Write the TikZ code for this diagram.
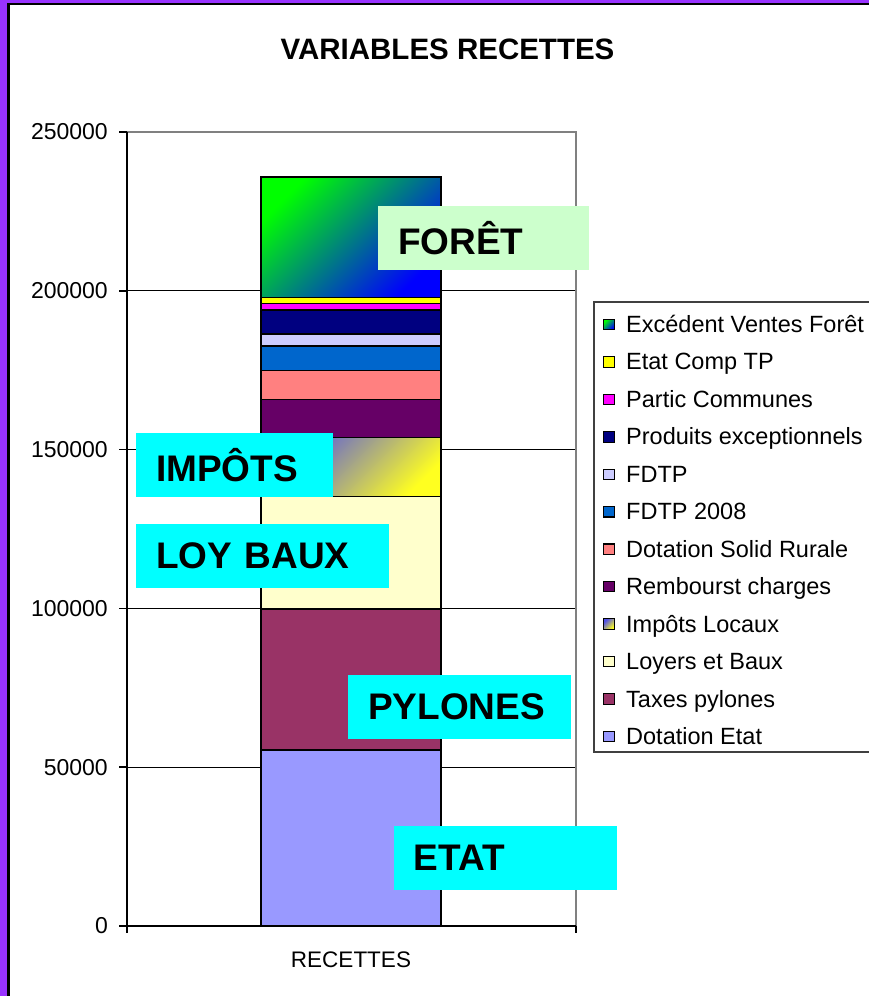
\documentclass[tikz,border=0pt]{standalone}
\usepackage{fontspec}
\setmainfont{Liberation Sans}
\usetikzlibrary{positioning,calc}

\definecolor{cadre}{HTML}{9933FF}
\definecolor{etat}{HTML}{9999FF}
\definecolor{pylones}{HTML}{993366}
\definecolor{loyers}{HTML}{FFFFCC}
\definecolor{rembourst}{HTML}{660066}
\definecolor{solid}{HTML}{FF8080}
\definecolor{fdtpviii}{HTML}{0066CC}
\definecolor{fdtp}{HTML}{CCCCFF}
\definecolor{produits}{HTML}{000080}
\definecolor{partic}{HTML}{FF00FF}
\definecolor{comptp}{HTML}{FFFF00}
\definecolor{etiq}{HTML}{00FFFF}
\definecolor{etiqforet}{HTML}{CCFFCC}
\definecolor{impotshaut}{HTML}{5050E8}
\definecolor{impotsbas}{HTML}{FFFF20}
\definecolor{foretmilieu}{HTML}{00D4BE}

\tikzset{
  tranche/.style={draw=black,line width=1.3pt},
  grad impots/.style={top color=impotshaut,bottom color=impotsbas,shading angle=45},
  grad foret/.style={top color=green,middle color=foretmilieu,bottom color=blue,shading angle=45},
  etiquette/.style={fill=etiq,anchor=north west,inner xsep=20pt,inner ysep=0pt,
    align=left,text width=#1,minimum height=63.5pt,font=\fontsize{37}{40}\selectfont\bfseries},
  graduation/.style={anchor=east,inner sep=0pt,font=\fontsize{23}{24}\selectfont},
  cle/.style={draw=black,line width=1.1pt,minimum size=10.5pt,inner sep=0pt},
  legende/.style={anchor=base west,inner sep=0pt,font=\fontsize{23.5}{25}\selectfont},
}

\begin{document}
\begin{tikzpicture}[x=1pt,y=-1pt]
  \useasboundingbox (0,0) rectangle (869,996);
  \clip (0,0) rectangle (869,996);
  % cadre
  \fill[cadre] (0,0) rectangle (869,996);
  \draw[fill=white,line width=2.5pt] (8.7,4.2) rectangle (890,1010);

  \node[font=\fontsize{29.5}{31}\selectfont\bfseries] (titre) at (447.5,49) {VARIABLES RECETTES};

  % zone du graphique
  \begin{scope}[shift={(127,926)},y=3.176pt]
    \foreach \v in {50,100,150,200}
      \draw[black,line width=1.3pt] (0,\v) -- (449,\v);
    \draw[gray,line width=1.3pt] (0,250) -- (449,250) -- (449,0);
    % barre empilee
    \foreach \bas/\haut/\coul in {0/55.4/etat,55.4/99.8/pylones,99.8/135.3/loyers,
        153.8/165.8/rembourst,165.8/174.8/solid,174.8/182.6/fdtpviii,182.6/186.4/fdtp,
        186.4/194/produits,194/196/partic,196/198/comptp}
      \draw[tranche,fill=\coul] (134,\bas) rectangle (314,\haut);
    \draw[tranche,grad impots] (134,135.3) rectangle (314,153.8);
    \draw[tranche,grad foret] (134,198) rectangle (314,235.8);
    % axes
    \draw[black,line width=1.5pt] (0,250) -- (0,0) -- (449,0);
    \draw[black,line width=1.5pt] (0,0) -- (0,-2.2) (449,0) -- (449,-2.2);
    \foreach \v/\txt in {0/0,50/50000,100/100000,150/150000,200/200000,250/250000}{
      \draw[black,line width=1.5pt] (-8,\v) -- (0,\v);
      \node[graduation] (grad\v) at (-19,\v) {\txt};
    }
    \node[font=\fontsize{22.5}{24}\selectfont] (recettes) at (224,-10.6) {RECETTES};
  \end{scope}

  % etiquettes
  \node[etiquette=171pt,fill=etiqforet] (foret) at (378,206) {FORÊT};
  \node[etiquette=157pt] (impots) at (136,433) {IMPÔTS};
  \node[etiquette=213pt] (loybaux) at (136,524) {LOY BAUX};
  \node[etiquette=183pt] (pylones) at (348,675) {PYLONES};
  \node[etiquette=183pt] (etat) at (393.5,826) {ETAT};

  % legende
  \draw[black!75,fill=white,line width=1.2pt] (594,302) rectangle (900,752);
  \node[cle,grad foret] (cle0) at (609,324.5) {};
  \node[legende] (leg0) at (626,332.5) {Excédent Ventes Forêt};
  \foreach \txt/\coul [count=\i] in {Etat Comp TP/comptp,Partic Communes/partic,
      Produits exceptionnels/produits,FDTP/fdtp,FDTP 2008/fdtpviii,
      Dotation Solid Rurale/solid,Rembourst charges/rembourst}{
    \node[cle,fill=\coul] (cle\i) at (609,324.5+\i*37.45) {};
    \node[legende] (leg\i) at (626,332.5+\i*37.45) {\txt};
  }
  \node[cle,grad impots] (cle8) at (609,324.5+8*37.45) {};
  \node[legende] (leg8) at (626,332.5+8*37.45) {Impôts Locaux};
  \foreach \txt/\coul [count=\i from 9] in {Loyers et Baux/loyers,Taxes pylones/pylones,
      Dotation Etat/etat}{
    \node[cle,fill=\coul] (cle\i) at (609,324.5+\i*37.45) {};
    \node[legende] (leg\i) at (626,332.5+\i*37.45) {\txt};
  }
\end{tikzpicture}
\end{document}
